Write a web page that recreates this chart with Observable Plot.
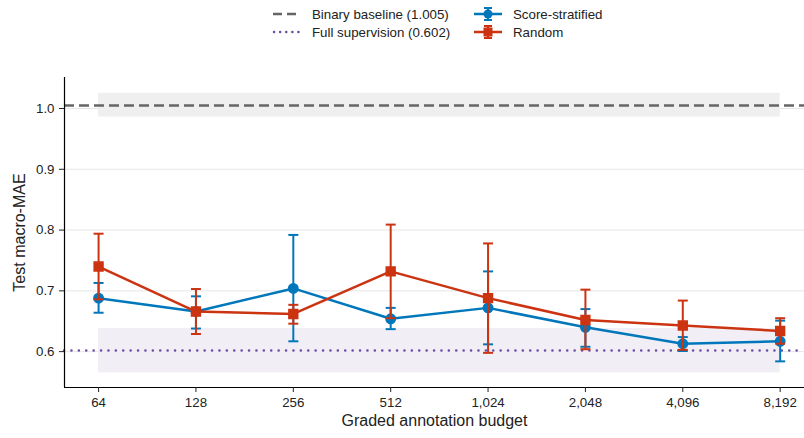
<!DOCTYPE html>
<html>
<head>
<meta charset="utf-8">
<script src="https://cdn.jsdelivr.net/npm/d3@7"></script>
<script src="https://cdn.jsdelivr.net/npm/@observablehq/plot@0.6"></script>
<style>
  body { margin: 0; background: #fff; font-family: Arial, "Liberation Sans", sans-serif; }
  #wrap { width: 804px; height: 438px; position: relative; }
  #legend { position: relative; width: 804px; height: 48px; font-size: 13.3px; color: #222; }
  .li { position: absolute; display: flex; align-items: center; height: 18px; white-space: nowrap; }
  .li svg { margin-right: 10px; }
</style>
</head>
<body>
<div id="wrap">
  <div id="legend"></div>
  <div id="chart"></div>
</div>
<script>
// ---- data ----
const budgets = [64, 128, 256, 512, 1024, 2048, 4096, 8192];
const stratMean = [0.688, 0.666, 0.704, 0.654, 0.672, 0.640, 0.613, 0.617];
const stratLow  = [0.664, 0.638, 0.617, 0.637, 0.612, 0.608, 0.601, 0.584];
const stratHigh = [0.713, 0.691, 0.792, 0.672, 0.732, 0.670, 0.624, 0.651];
const randMean  = [0.740, 0.666, 0.662, 0.732, 0.688, 0.652, 0.643, 0.634];
const randLow   = [0.686, 0.629, 0.646, 0.655, 0.598, 0.604, 0.603, 0.613];
const randHigh  = [0.794, 0.703, 0.677, 0.809, 0.778, 0.702, 0.684, 0.655];
const binaryBaseline = 1.005;
const binaryBand = [0.986, 1.025];
const fullSupervision = 0.602;
const fullBand = [0.565, 0.638];
const yTicks = [0.6, 0.7, 0.8, 0.9, 1.0];
const seriesNames = ["Score-stratified", "Random"];
const lineLabels = ["Binary baseline (1.005)", "Full supervision (0.602)"];

const BLUE = "#0077BB", RED = "#CC3311", GRAY = "#666666", PURPLE = "#6B4FA6";

const rows = [];
budgets.forEach((b, i) => {
  rows.push({series: seriesNames[0], x: b, y: stratMean[i], lo: stratLow[i], hi: stratHigh[i]});
});
budgets.forEach((b, i) => {
  rows.push({series: seriesNames[1], x: b, y: randMean[i], lo: randLow[i], hi: randHigh[i]});
});
const S = rows.filter(d => d.series === seriesNames[0]);
const R = rows.filter(d => d.series === seriesNames[1]);

const capSymbol = { draw(ctx) { ctx.moveTo(-5, 0); ctx.lineTo(5, 0); } };

const xDomain = [2 ** 5.65, 2 ** 13.25];
const yDomain = [0.541, 1.051];

function seriesMarks(data, color, symbol, r) {
  return [
    Plot.ruleX(data, {x: "x", y1: "lo", y2: "hi", stroke: color, strokeWidth: 2}),
    Plot.dot(data, {x: "x", y: "lo", symbol: capSymbol, stroke: color, strokeWidth: 2, r: 5}),
    Plot.dot(data, {x: "x", y: "hi", symbol: capSymbol, stroke: color, strokeWidth: 2, r: 5}),
    Plot.line(data, {x: "x", y: "y", stroke: color, strokeWidth: 2.5}),
    Plot.dot(data, {x: "x", y: "y", symbol: symbol, fill: color, stroke: color, r: r})
  ];
}

const chart = Plot.plot({
  width: 804,
  height: 390,
  marginTop: 29,
  marginBottom: 51,
  marginLeft: 64,
  marginRight: 0,
  style: {fontFamily: "Arial, Liberation Sans, sans-serif", fontSize: "13.3px", color: "#222", background: "#fff"},
  x: {type: "log", base: 2, domain: xDomain},
  y: {domain: yDomain},
  marks: [
    Plot.ruleY(yTicks, {stroke: "#e6e6e6", strokeWidth: 1}),
    Plot.rect([binaryBand], {x1: budgets[0], x2: budgets[budgets.length - 1], y1: d => d[0], y2: d => d[1], fill: "#efefef"}),
    Plot.rect([fullBand], {x1: budgets[0], x2: budgets[budgets.length - 1], y1: d => d[0], y2: d => d[1], fill: "#f1eef6"}),
    Plot.ruleY([binaryBaseline], {stroke: GRAY, strokeWidth: 2.5, strokeDasharray: "10,5"}),
    Plot.ruleY([fullSupervision], {stroke: PURPLE, strokeWidth: 2.5, strokeDasharray: "0.1,7.3", strokeLinecap: "round"}),
    ...seriesMarks(S, BLUE, "circle", 4.7),
    ...seriesMarks(R, RED, "square", 5),
    Plot.ruleX([xDomain[0]], {stroke: "#000", strokeWidth: 1.2}),
    Plot.ruleY([yDomain[0]], {stroke: "#000", strokeWidth: 1.2}),
    Plot.axisX({ticks: budgets, tickFormat: d3.format(","), tickSize: 5, tickPadding: 5, fontSize: 13.3,
      label: "Graded annotation budget", labelAnchor: "center", labelArrow: "none", labelOffset: 38}),
    Plot.axisY({ticks: yTicks, tickFormat: d3.format(".1f"), tickSize: 5, tickPadding: 5, fontSize: 13.3,
      label: "Test macro-MAE", labelAnchor: "center", labelArrow: "none", labelOffset: 51})
  ]
});
document.getElementById("chart").appendChild(chart);

// axis titles are larger than the tick labels
chart.querySelectorAll("g[aria-label='x-axis label'] text, g[aria-label='y-axis label'] text").forEach(t => {
  t.setAttribute("font-size", "16px");
  t.style.fontSize = "16px";
});

// ---- legend ----
const legend = document.getElementById("legend");
function addItem(left, top, svgInner, label) {
  const div = document.createElement("div");
  div.className = "li";
  div.style.left = left + "px";
  div.style.top = top + "px";
  div.innerHTML = `<svg width="30" height="18">${svgInner}</svg><span>${label}</span>`;
  legend.appendChild(div);
}
addItem(272, 5, `<line x1="1" x2="29" y1="9" y2="9" stroke="${GRAY}" stroke-width="2.5" stroke-dasharray="9,5"/>`, lineLabels[0]);
addItem(272, 23, `<line x1="2" x2="29" y1="9" y2="9" stroke="${PURPLE}" stroke-width="2.5" stroke-dasharray="0.1,6" stroke-linecap="round"/>`, lineLabels[1]);
addItem(473, 5, `<line x1="1" x2="29" y1="9" y2="9" stroke="${BLUE}" stroke-width="2.5"/><line x1="15" x2="15" y1="3" y2="15" stroke="${BLUE}" stroke-width="2"/><line x1="11" x2="19" y1="3" y2="3" stroke="${BLUE}" stroke-width="2"/><line x1="11" x2="19" y1="15" y2="15" stroke="${BLUE}" stroke-width="2"/><circle cx="15" cy="9" r="4.5" fill="${BLUE}"/>`, seriesNames[0]);
addItem(473, 23, `<line x1="1" x2="29" y1="9" y2="9" stroke="${RED}" stroke-width="2.5"/><line x1="15" x2="15" y1="3" y2="15" stroke="${RED}" stroke-width="2"/><line x1="11" x2="19" y1="3" y2="3" stroke="${RED}" stroke-width="2"/><line x1="11" x2="19" y1="15" y2="15" stroke="${RED}" stroke-width="2"/><rect x="10.5" y="4.5" width="9" height="9" fill="${RED}"/>`, seriesNames[1]);
</script>
</body>
</html>
